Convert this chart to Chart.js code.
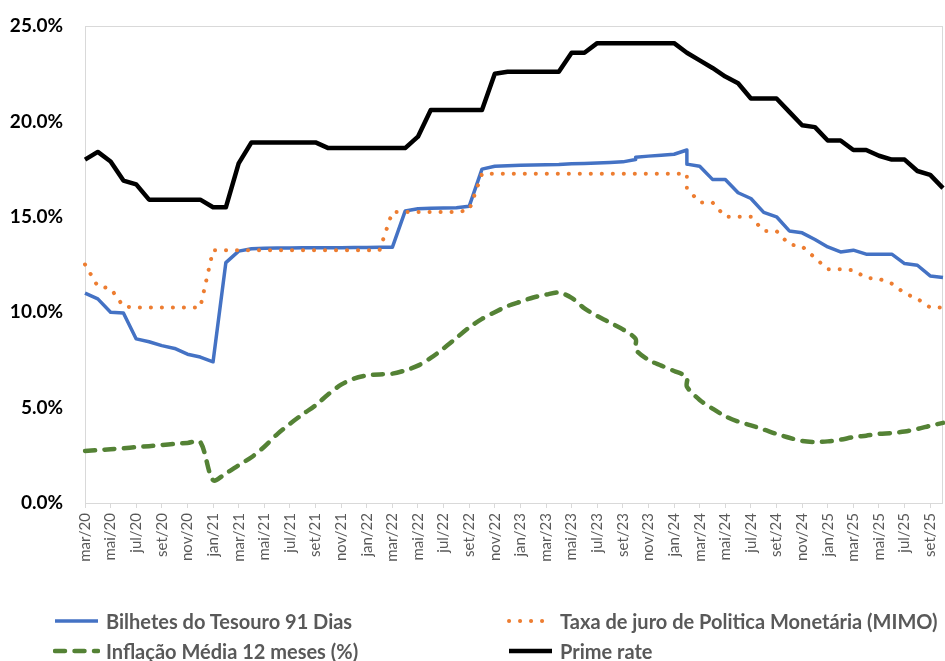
<!DOCTYPE html>
<html>
<head>
<meta charset="utf-8">
<script src="https://cdn.jsdelivr.net/npm/chart.js@4.4.1/dist/chart.umd.min.js"></script>
<style>
  html, body { margin: 0; padding: 0; background: #fff; }
  #wrap { position: relative; width: 945px; height: 661px; }
  #chart { position: absolute; left: 0; top: 0; }
  #legend {
    position: absolute; left: 53px; top: 606px;
    display: grid; grid-template-columns: 454px auto; grid-auto-rows: 30px;
    font: bold 20px Lato, sans-serif; color: #595959;
  }
  .item { display: flex; align-items: center; white-space: nowrap; }
  .item svg { margin-right: 6px; }
</style>
</head>
<body>
<div id="wrap">
  <canvas id="chart" width="945" height="661"></canvas>
  <div id="legend"></div>
</div>
<script>
// months, mar/20 .. out/25
const months = [
  'mar/20','abr/20','mai/20','jun/20','jul/20','ago/20','set/20','out/20','nov/20','dez/20',
  'jan/21','fev/21','mar/21','abr/21','mai/21','jun/21','jul/21','ago/21','set/21','out/21','nov/21','dez/21',
  'jan/22','fev/22','mar/22','abr/22','mai/22','jun/22','jul/22','ago/22','set/22','out/22','nov/22','dez/22',
  'jan/23','fev/23','mar/23','abr/23','mai/23','jun/23','jul/23','ago/23','set/23','out/23','nov/23','dez/23',
  'jan/24','fev/24','mar/24','abr/24','mai/24','jun/24','jul/24','ago/24','set/24','out/24','nov/24','dez/24',
  'jan/25','fev/25','mar/25','abr/25','mai/25','jun/25','jul/25','ago/25','set/25','out/25'
];

// values in %, one per month; [a, b] = two readings in the same month
const bilhetes = [
  11.0, 10.7, 10.0, 9.96, 8.6, 8.45, 8.25, 8.1, 7.8, 7.65,
  7.4, 12.6, 13.2, 13.33, 13.35, 13.36, 13.37, 13.38, 13.38, 13.38, 13.38, 13.39,
  13.39, 13.4, 13.4, 15.3, 15.42, 15.45, 15.46, 15.47, 15.55, 17.5, 17.65, 17.68,
  17.7, 17.72, 17.73, 17.74, 17.78, 17.8, 17.82, 17.85, 17.88, [18.0, 18.12], 18.18, 18.23,
  18.28, [18.5, 17.76], 17.65, 16.96, 16.95, 16.26, 15.96, 15.23, 15.0, 14.26, 14.16, 13.81,
  13.42, 13.16, 13.25, 13.04, 13.04, 13.04, 12.55, 12.46, 11.9, 11.82
];
const mimo = [
  12.5, 11.35, 11.25, 10.3, 10.25, 10.25, 10.25, 10.25, 10.25, 10.25,
  13.25, 13.25, 13.25, 13.25, 13.25, 13.25, 13.25, 13.25, 13.25, 13.25, 13.25, 13.25,
  13.25, 13.25, 15.25, 15.25, 15.25, 15.25, 15.25, 15.25, 15.35, 17.25, 17.25, 17.25,
  17.25, 17.25, 17.25, 17.25, 17.25, 17.25, 17.25, 17.25, 17.25, 17.25, 17.25, 17.25,
  17.25, [17.25, 16.5], 15.75, 15.75, 15.0, 15.0, 15.0, 14.25, 14.25, 13.55, 13.45, 12.85,
  12.25, 12.25, 12.2, 11.8, 11.75, 11.5, 11.0, 10.7, 10.25, 10.25
];
const inflacao = [
  2.73, 2.77, 2.82, 2.87, 2.93, 2.98, 3.04, 3.1, 3.15, 3.2,
  1.2, 1.55, 1.98, 2.4, 2.95, 3.6, 4.15, 4.65, 5.12, 5.7, 6.2, 6.52,
  6.68, 6.74, 6.78, 6.95, 7.2, 7.6, 8.1, 8.65, 9.2, 9.65, 10.0, 10.32,
  10.55, 10.77, 10.92, 11.03, 10.75, 10.2, 9.8, 9.45, 9.1, [8.6, 8.05], 7.5, 7.2,
  6.92, [6.6, 6.1], 5.4, 4.95, 4.55, 4.27, 4.07, 3.85, 3.62, 3.42, 3.25, 3.2,
  3.23, 3.32, 3.45, 3.53, 3.62, 3.67, 3.75, 3.88, 4.05, 4.2
];
const prime = [
  18.0, 18.4, 17.9, 16.9, 16.7, 15.9, 15.9, 15.9, 15.9, 15.9,
  15.5, 15.5, 17.8, 18.9, 18.9, 18.9, 18.9, 18.9, 18.9, 18.6, 18.6, 18.6,
  18.6, 18.6, 18.6, 18.6, 19.2, 20.6, 20.6, 20.6, 20.6, 20.6, 22.5, 22.6,
  22.6, 22.6, 22.6, 22.6, 23.6, 23.6, 24.1, 24.1, 24.1, 24.1, 24.1, 24.1,
  24.1, 23.6, 23.2, 22.8, 22.35, 22.0, 21.2, 21.2, 21.2, 20.5, 19.8, 19.7,
  19.0, 19.0, 18.5, 18.5, 18.2, 18.0, 18.0, 17.4, 17.2, 16.5
];

// turn a month series into points, double readings share the same x
function toPoints(values) {
  const pts = [];
  values.forEach((v, i) => {
    [].concat(v).forEach(y => pts.push({ x: months[i], y: y }));
  });
  return pts;
}

const plotBorder = {
  id: 'plotBorder',
  beforeDatasetsDraw(chart) {
    const { ctx, chartArea: a } = chart;
    ctx.save();
    ctx.strokeStyle = '#d9d9d9';
    ctx.lineWidth = 1;
    ctx.strokeRect(Math.round(a.left) + 0.5, Math.round(a.top) + 0.5,
                   Math.round(a.width) - 1, Math.round(a.height));
    ctx.restore();
  }
};

const ctx = document.getElementById('chart').getContext('2d');
const chart = new Chart(ctx, {
  type: 'line',
  data: {
    labels: months,
    datasets: [
      {
        label: 'Bilhetes do Tesouro 91 Dias',
        data: toPoints(bilhetes),
        borderColor: '#4472C4',
        borderWidth: 3.5,
        borderJoinStyle: 'round',
        order: 4
      },
      {
        label: 'Taxa de juro de Politica Monetária (MIMO)',
        data: toPoints(mimo),
        borderColor: '#ED7D31',
        borderWidth: 4,
        borderDash: [0.1, 10.9],
        borderCapStyle: 'round',
        order: 3
      },
      {
        label: 'Inflação Média 12 meses (%)',
        data: toPoints(inflacao),
        borderColor: '#548235',
        borderWidth: 4.5,
        borderDash: [10, 9.5],
        borderCapStyle: 'round',
        tension: 0.3,
        order: 2
      },
      {
        label: 'Prime rate',
        data: toPoints(prime),
        borderColor: '#000000',
        borderWidth: 4.5,
        borderJoinStyle: 'round',
        order: 1
      }
    ]
  },
  options: {
    responsive: false,
    animation: false,
    layout: { padding: { top: 26, right: 2, left: 0, bottom: 0 } },
    elements: { point: { radius: 0, hoverRadius: 0 } },
    plugins: {
      legend: { display: false },
      tooltip: { enabled: false }
    },
    scales: {
      x: {
        type: 'category',
        offset: false,
        border: { display: false },
        grid: {
          drawOnChartArea: false,
          drawTicks: true,
          tickLength: 5,
          color: c => (c.index % 2 === 0 ? '#d9d9d9' : 'rgba(0,0,0,0)')
        },
        ticks: {
          autoSkip: false,
          minRotation: 90,
          maxRotation: 90,
          padding: 5,
          color: '#595959',
          font: { family: 'Lato', size: 15 },
          callback: (v, i) => (i % 2 === 0 ? months[i] : '')
        },
        afterFit: s => { s.height = 158; s.paddingLeft = 0; s.paddingRight = 0; }
      },
      y: {
        min: 0,
        max: 25,
        border: { display: false },
        grid: { display: false, drawTicks: false },
        ticks: {
          stepSize: 5,
          padding: 22,
          color: '#000000',
          font: { family: 'Lato', size: 19, weight: 'bold' },
          callback: v => v.toFixed(1) + '%'
        },
        afterFit: s => { s.width = 85; s.paddingTop = 0; s.paddingBottom = 0; }
      }
    }
  },
  plugins: [plotBorder]
});

// legend in two columns, built from the datasets
const legendOrder = [0, 1, 2, 3];
const legendEl = document.getElementById('legend');
legendOrder.forEach(k => {
  const ds = chart.data.datasets[k];
  const item = document.createElement('div');
  item.className = 'item';
  const dash = ds.borderDash ? ds.borderDash.join(' ') : 'none';
  const cap = ds.borderCapStyle === 'round' ? 'round' : 'butt';
  item.innerHTML =
    '<svg width="47" height="10"><line x1="2" y1="5" x2="45" y2="5" stroke="' + ds.borderColor +
    '" stroke-width="' + ds.borderWidth + '" stroke-dasharray="' + dash + '" stroke-linecap="' + cap +
    '"/></svg><span>' + ds.label + '</span>';
  legendEl.appendChild(item);
});
</script>
</body>
</html>
